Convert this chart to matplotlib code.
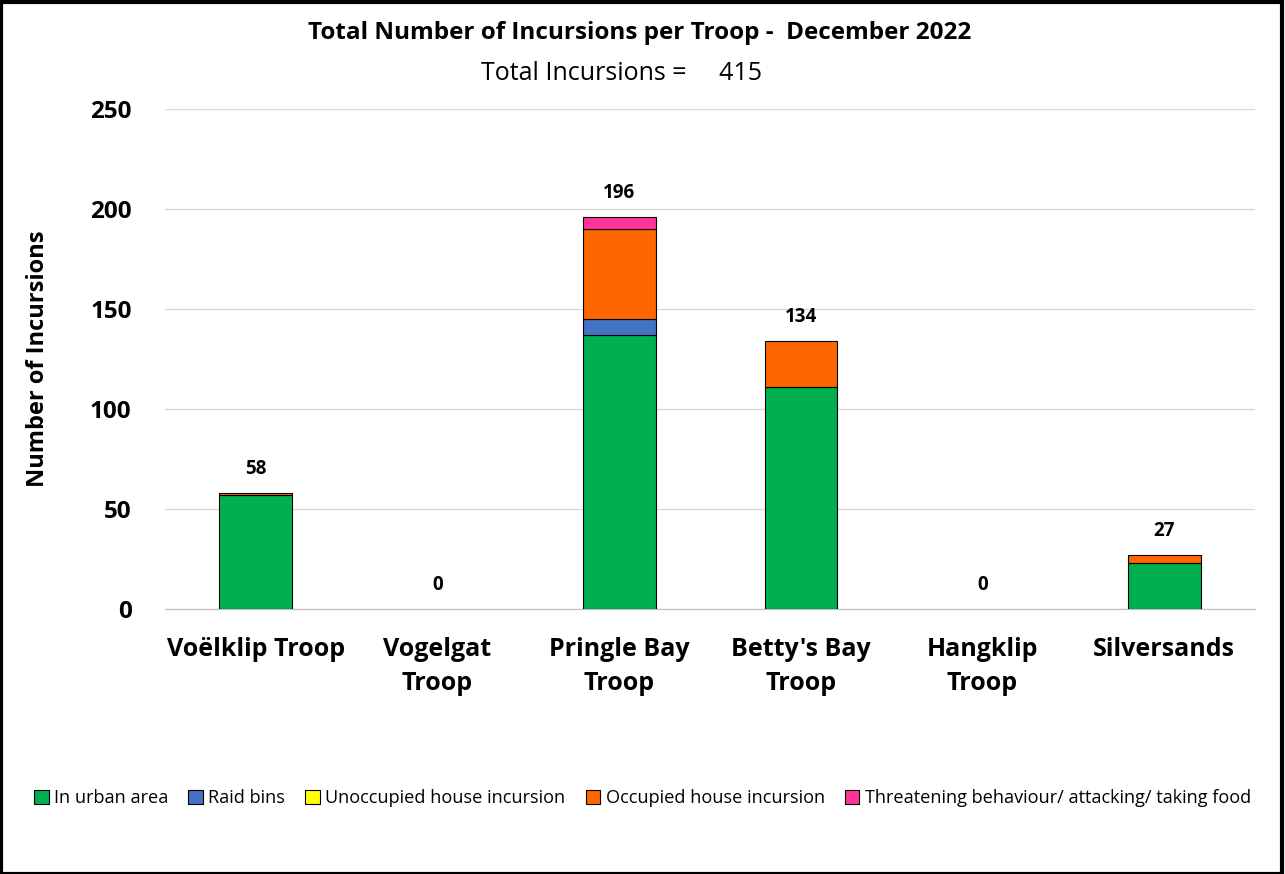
import matplotlib
matplotlib.use("Agg")
import matplotlib.pyplot as plt
import numpy as np
from matplotlib.patches import Rectangle

plt.rcParams['font.family'] = ['Open Sans', 'DejaVu Sans']

# ── Data ──────────────────────────────────────────────────────────────
troops = ["Voëlklip Troop", "Vogelgat\nTroop", "Pringle Bay\nTroop",
          "Betty's Bay\nTroop", "Hangklip\nTroop", "Silversands"]
urban      = [57, 0, 137, 111, 0, 23]
raid_bins  = [0, 0, 8, 0, 0, 0]
unoccupied = [0, 0, 0, 0, 0, 0]
occupied   = [1, 0, 45, 23, 0, 4]
threat     = [0, 0, 6, 0, 0, 0]
totals     = [58, 0, 196, 134, 0, 27]

series = [
    ("In urban area", urban, "#00b050"),
    ("Raid bins", raid_bins, "#4472c4"),
    ("Unoccupied house incursion", unoccupied, "#ffff00"),
    ("Occupied house incursion", occupied, "#ff6600"),
    ("Threatening behaviour/ attacking/ taking food", threat, "#ff3399"),
]
# ──────────────────────────────────────────────────────────────────────

fig = plt.figure(figsize=(12.85, 8.74), dpi=100)
ax = fig.add_axes([165 / 1285, 1 - 609 / 874, 1090 / 1285, 500 / 874])

x = np.arange(len(troops))
bottom = np.zeros(len(troops))
handles = []
for name, vals, col in series:
    vals = np.array(vals, dtype=float)
    mask = vals > 0
    ax.bar(x[mask], vals[mask], 0.4, bottom=bottom[mask], color=col,
           edgecolor="black", linewidth=0.8, zorder=3)
    handles.append(Rectangle((0, 0), 1, 1, facecolor=col, edgecolor="black", linewidth=0.8))
    bottom += vals

for xi, t in zip(x, totals):
    ax.text(xi, t + 7, str(t), ha="center", va="bottom", fontsize=13.5, fontweight="bold")

ax.set_xlim(-0.5, len(troops) - 0.5)
ax.set_ylim(0, 250)
ax.set_yticks(range(0, 251, 50))
ax.grid(axis="y", color="#d9d9d9", linewidth=1, zorder=0)
for s in ["top", "right", "left"]:
    ax.spines[s].set_visible(False)
ax.spines["bottom"].set_color("#bfbfbf")
ax.tick_params(length=0)
ax.set_xticks(x)
ax.set_xticklabels(troops, fontsize=18, fontweight="bold", linespacing=1.5)
for lab in ax.get_yticklabels():
    lab.set_fontsize(17.5)
    lab.set_fontweight("bold")
ax.tick_params(axis="x", pad=20)
ax.tick_params(axis="y", pad=24)
ax.set_ylabel("Number of Incursions", fontsize=17, fontweight="bold", labelpad=29)

fig.text(0.498, 1 - 33 / 874, "Total Number of Incursions per Troop -  December 2022",
         ha="center", va="center", fontsize=17.5, fontweight="bold")
fig.text(0.484, 1 - 74 / 874, "Total Incursions =     415",
         ha="center", va="center", fontsize=18)

fig.legend(handles, [s[0] for s in series], loc="center",
           bbox_to_anchor=(0.5, 1 - 798 / 874), ncol=5, frameon=False,
           fontsize=13.1, handlelength=0.8, handleheight=0.8,
           handletextpad=0.3, columnspacing=1.1)

fig.patches.append(Rectangle((0.001, 0.0), 0.997, 0.998, transform=fig.transFigure,
                             fill=False, edgecolor="black", linewidth=3))

fig.savefig("out.png", dpi=100)
